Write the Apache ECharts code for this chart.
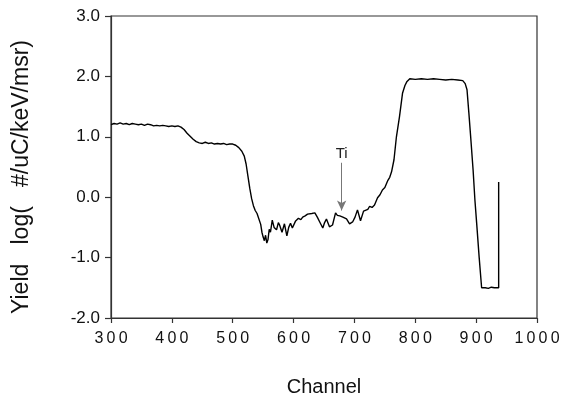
<!DOCTYPE html>
<html style="height: 100%">
<head>
    <meta charset="utf-8">
    <script type="text/javascript" src="https://cdn.jsdelivr.net/npm/echarts@6/dist/echarts.min.js"></script>
</head>
<body style="height: 100%; margin: 0; background: #fff">
    <div id="yieldChart" style="height: 397px; width: 566px;"></div>

    <script type="text/javascript">
        // channel / log yield
        var channels = [
            300, 305, 310, 315, 320, 325, 330, 335, 340, 345, 350, 355, 360, 365, 370, 375, 380, 385, 390, 395,
            400, 405, 410, 415, 420, 425, 430, 435, 440, 445, 450, 455, 460, 465, 470, 475, 480, 485, 490, 495,
            500, 505, 510, 515, 519, 522, 525, 528, 531, 534, 537, 540, 543, 546, 548, 550, 552, 554, 556, 558,
            560, 562, 565, 568, 572, 575, 577, 581, 585, 589, 592, 595, 598, 603, 608, 612, 615, 619, 623, 626,
            630, 635, 639, 643, 648, 651, 654, 659, 664, 669, 672, 676, 681, 684, 687, 692, 697, 701, 705, 710,
            715, 718, 722, 725, 729, 733, 738, 742, 746, 750, 755, 758, 761, 765, 769, 774, 779, 783, 786, 791,
            800, 810, 820, 830, 840, 850, 860, 870, 878, 882, 885, 888, 891, 895, 898, 901, 905, 909, 915, 920,
            925, 930, 937, 937
        ];
        var yieldLog = [
            1.20, 1.22, 1.21, 1.23, 1.21, 1.22, 1.20, 1.22, 1.21, 1.20, 1.21, 1.19, 1.21, 1.20, 1.18, 1.19, 1.18, 1.19, 1.18, 1.17,
            1.18, 1.17, 1.18, 1.16, 1.12, 1.06, 1.01, 0.96, 0.92, 0.90, 0.89, 0.91, 0.89, 0.90, 0.88, 0.89, 0.88, 0.89, 0.87, 0.88,
            0.88, 0.86, 0.82, 0.76, 0.68, 0.55, 0.35, 0.15, -0.02, -0.14, -0.22, -0.27, -0.30, -0.45, -0.58, -0.66, -0.72, -0.63, -0.76, -0.70,
            -0.53, -0.58, -0.38, -0.50, -0.54, -0.42, -0.46, -0.58, -0.44, -0.64, -0.50, -0.43, -0.51, -0.40, -0.35, -0.37, -0.33, -0.31, -0.28, -0.25,
            -0.27, -0.26, -0.33, -0.41, -0.51, -0.42, -0.36, -0.49, -0.46, -0.26, -0.30, -0.31, -0.33, -0.30, -0.36, -0.44, -0.41, -0.33, -0.21, -0.39,
            -0.23, -0.25, -0.20, -0.15, -0.17, -0.13, -0.01, 0.04, 0.12, 0.16, 0.28, 0.33, 0.42, 0.62, 1.00, 1.33, 1.72, 1.85, 1.91, 1.96,
            1.95, 1.96, 1.95, 1.96, 1.95, 1.94, 1.95, 1.94, 1.93, 1.88, 1.78, 1.40, 1.00, 0.45, -0.05, -0.45, -1.00, -1.50, -1.50, -1.51,
            -1.49, -1.50, -1.50, 0.25
        ];
        var xTicks = [300, 400, 500, 600, 700, 800, 900, 1000];
        var yTicks = [-2, -1, 0, 1, 2, 3];
        var tiMark = { channel: 679, label: 'Ti', textAt: 0.71, from: 0.57, to: -0.22 };

        var points = channels.map(function (c, i) {
            return [c, yieldLog[i]];
        });

        var chart = echarts.init(document.getElementById('yieldChart'));
        var font = 'Liberation Sans, Arial, sans-serif';

        var option = {
            animation: false,
            backgroundColor: '#fff',
            grid: {
                left: 111, right: 29, top: 16, bottom: 79,
                containLabel: false,
                outerBoundsMode: 'none',
                show: true,
                borderColor: '#333',
                borderWidth: 1.2
            },
            xAxis: {
                type: 'value',
                min: xTicks[0],
                max: xTicks[xTicks.length - 1],
                interval: 100,
                name: 'Channel',
                nameLocation: 'middle',
                nameGap: 59,
                nameTextStyle: { fontFamily: font, fontSize: 20, color: '#111' },
                axisLine: { onZero: false, lineStyle: { color: '#333', width: 1.2 } },
                axisTick: { length: 5, lineStyle: { color: '#333', width: 1.2 } },
                splitLine: { show: false },
                axisLabel: {
                    margin: 13,
                    fontFamily: font,
                    fontSize: 16,
                    color: '#111',
                    formatter: function (v) { return String(v).split('').join('\u2009'); }
                }
            },
            yAxis: {
                type: 'value',
                min: yTicks[0],
                max: yTicks[yTicks.length - 1],
                interval: 1,
                name: 'Yield   log(   #/uC/keV/msr)',
                nameLocation: 'middle',
                nameGap: 78,
                nameTextStyle: { fontFamily: font, fontSize: 23, color: '#111', padding: [0, 20, 0, 0] },
                axisLine: { onZero: false, lineStyle: { color: '#333', width: 1.2 } },
                axisTick: { length: 6, lineStyle: { color: '#333', width: 1.2 } },
                splitLine: { show: false },
                axisLabel: {
                    margin: 11,
                    fontFamily: font,
                    fontSize: 17,
                    color: '#111',
                    formatter: function (v) { return v.toFixed(1); }
                }
            },
            series: [
                {
                    type: 'line',
                    data: points,
                    showSymbol: false,
                    symbol: 'none',
                    lineStyle: { color: '#000', width: 1.4 },
                    markLine: {
                        silent: true,
                        symbol: ['none', 'arrow'],
                        symbolSize: [7, 10],
                        label: { show: false },
                        lineStyle: { color: '#777', width: 1, type: 'solid' },
                        data: [[
                            { coord: [tiMark.channel, tiMark.from] },
                            { coord: [tiMark.channel, tiMark.to] }
                        ]]
                    },
                    markPoint: {
                        silent: true,
                        symbol: 'circle',
                        symbolSize: 0,
                        label: {
                            show: true,
                            position: 'inside',
                            formatter: tiMark.label,
                            fontFamily: font,
                            fontSize: 15,
                            color: '#222'
                        },
                        data: [{ coord: [tiMark.channel, tiMark.textAt] }]
                    }
                }
            ]
        };

        chart.setOption(option);
    </script>
</body>
</html>
